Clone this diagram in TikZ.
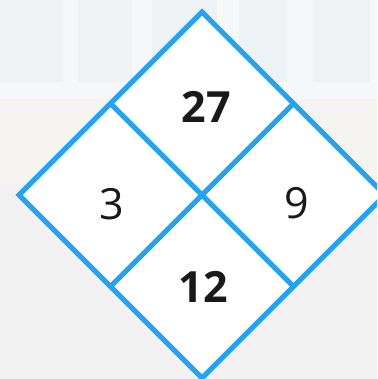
\documentclass[tikz,border=0pt]{standalone}
\usepackage{fontspec}
\setmainfont{Open Sans}
\definecolor{edgeblue}{RGB}{38,163,240}
\definecolor{bgtop}{RGB}{238,242,245}
\definecolor{bgmid}{RGB}{245,243,239}
\definecolor{bglow}{RGB}{241,241,241}
\definecolor{frame}{RGB}{246,247,248}
\tikzset{
  edge/.style={draw=edgeblue,line width=5pt,line join=miter},
  num/.style={font=\fontsize{43}{43}\selectfont,text=black!90},
  bnum/.style={font=\fontsize{43}{43}\selectfont\bfseries,text=black!90}
}
\begin{document}
\begin{tikzpicture}[x=1pt,y=1pt]
\useasboundingbox (0,0) rectangle (377,379);
\begin{scope}
\clip (0,0) rectangle (377,379);
% faded background
\fill[bglow] (0,0) rectangle (377,379);
\fill[bgtop] (0,297) rectangle (377,379);
\fill[bgmid] (0,195) rectangle (377,280);
\fill[frame] (0,280) rectangle (377,297);
\foreach \x/\w in {63/15,132/20,217/22,287/26,370/7}{\fill[frame] (\x,297) rectangle (\x+\w,379);}
% diamond
\coordinate (T) at (202,367);
\coordinate (B) at (202,1);
\coordinate (L) at (19,184);
\coordinate (R) at (385,184);
\coordinate (C) at (202,184);
\coordinate (TL) at (110.5,275.5);
\coordinate (TR) at (293.5,275.5);
\coordinate (BL) at (110.5,92.5);
\coordinate (BR) at (293.5,92.5);
\fill[white] (T) -- (R) -- (B) -- (L) -- cycle;
\draw[edge] (T) -- (R) -- (B) -- (L) -- cycle;
\draw[edge] (TL) -- (BR);
\draw[edge] (TR) -- (BL);
\node[bnum] (n27) at (206,272) {27};
\node[num] (n3) at (112,175) {3};
\node[num] (n9) at (297,176) {9};
\node[bnum] (n12) at (203,92) {12};
\end{scope}
\end{tikzpicture}
\end{document}
